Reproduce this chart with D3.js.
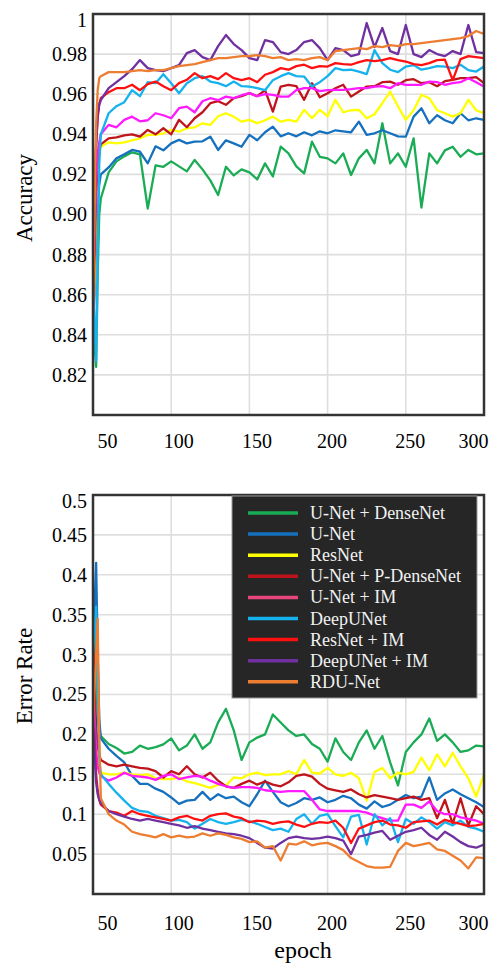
<!DOCTYPE html>
<html>
<head>
<meta charset="utf-8">
<script src="https://cdn.jsdelivr.net/npm/d3@7"></script>
<style>
body{margin:0;background:#fff}
svg text{font-family:"Liberation Serif","Times New Roman",serif !important}
</style>
</head>
<body>
<svg id="chart" width="493" height="967"></svg>
<script>
// epochs shared by every series
var epochs = [50,51,52,53,54,55,60,65,70,75,80,
  85,90,95,100,105,110,115,120,125,130,135,
  140,145,150,155,160,165,170,175,180,185,190,
  195,200,205,210,215,220,225,230,235,240,245,
  250,255,260,265,270,275,280,285,290,295,300]

var seriesNames = ["U-Net + DenseNet","U-Net","ResNet","U-Net + P-DenseNet","U-Net + IM",
  "DeepUNet","ResNet + IM","DeepUNet + IM","RDU-Net"]

var xTicks = [50,100,150,200,250,300]
var accTicks = [0.82,0.84,0.86,0.88,0.90,0.92,0.94,0.96,0.98,1]
var accTickLabels = ["0.82","0.84","0.86","0.88","0.90","0.92","0.94","0.96","0.98","1"]
var errTicks = [0.05,0.1,0.15,0.2,0.25,0.3,0.35,0.4,0.45,0.5]
var errTickLabels = ["0.05","0.1","0.15","0.2","0.25","0.3","0.35","0.4","0.45","0.5"]

// accuracy
var accUNetDense = [0.85,0.835,0.824,0.87,0.90,0.908,0.921,0.9265,0.929,0.931,0.930,
  0.903,0.9245,0.9238,0.9265,0.924,0.9215,0.9272,0.9225,0.917,0.9097,0.9238,
  0.9195,0.9225,0.921,0.9175,0.9255,0.919,0.9338,0.9305,0.924,0.9205,0.9363,
  0.9288,0.928,0.9255,0.9305,0.9197,0.928,0.9322,0.9255,0.9455,0.9255,0.9305,
  0.9238,0.938,0.9035,0.9305,0.9255,0.932,0.9338,0.9288,0.9322,0.930,0.9305]
var accUNet = [0.845,0.86,0.89,0.905,0.915,0.92,0.9235,0.928,0.930,0.9322,0.9313,
  0.9255,0.934,0.932,0.9355,0.9372,0.9355,0.9363,0.9365,0.9388,0.9322,0.937,
  0.9355,0.9338,0.9397,0.937,0.941,0.9438,0.939,0.9405,0.939,0.941,0.9395,
  0.9415,0.9405,0.942,0.9415,0.941,0.9463,0.9397,0.9405,0.942,0.9405,0.939,
  0.9388,0.9488,0.953,0.9455,0.9495,0.947,0.9455,0.9505,0.947,0.948,0.9472]
var accResNet = [0.840,0.87,0.905,0.925,0.93,0.9338,0.936,0.9355,0.936,0.937,0.938,
  0.9397,0.9397,0.9405,0.9422,0.9413,0.943,0.9435,0.9455,0.9447,0.949,0.9505,
  0.9488,0.9463,0.9472,0.9455,0.947,0.9488,0.9463,0.9472,0.9463,0.9522,0.948,
  0.9522,0.949,0.9572,0.951,0.952,0.9522,0.948,0.950,0.9555,0.9613,0.954,
  0.9472,0.952,0.9597,0.958,0.952,0.9505,0.9488,0.9505,0.9572,0.952,0.9505]
var accUNetPDense = [0.848,0.88,0.91,0.925,0.932,0.935,0.938,0.9385,0.9395,0.940,0.9388,
  0.9422,0.940,0.943,0.940,0.9472,0.9435,0.948,0.951,0.9555,0.9565,0.9547,
  0.958,0.959,0.9605,0.959,0.962,0.9513,0.9638,0.9647,0.964,0.9572,0.9655,
  0.9585,0.9605,0.963,0.9647,0.9588,0.9613,0.9638,0.964,0.966,0.9663,0.9647,
  0.967,0.9675,0.9655,0.966,0.964,0.9665,0.9672,0.968,0.968,0.9685,0.9655]
var accUNetIM = [0.86,0.89,0.915,0.93,0.936,0.94,0.9447,0.9435,0.9472,0.9488,0.9465,
  0.947,0.9505,0.9495,0.948,0.953,0.9538,0.951,0.9565,0.958,0.957,0.9588,
  0.958,0.9595,0.9605,0.959,0.960,0.9597,0.9588,0.9588,0.962,0.963,0.963,
  0.9615,0.962,0.9622,0.9622,0.9625,0.963,0.963,0.9638,0.964,0.963,0.9655,
  0.9647,0.9647,0.9647,0.9663,0.966,0.9647,0.9655,0.966,0.968,0.966,0.9638]
var accDeepUNet = [0.87,0.845,0.827,0.88,0.925,0.94,0.9505,0.954,0.956,0.962,0.959,
  0.966,0.9655,0.970,0.9655,0.9605,0.9655,0.968,0.969,0.9663,0.9655,0.964,
  0.9663,0.964,0.9638,0.963,0.962,0.967,0.969,0.9705,0.969,0.9688,0.9638,
  0.966,0.969,0.973,0.972,0.9722,0.9713,0.970,0.982,0.9755,0.9722,0.971,
  0.9738,0.9745,0.9722,0.973,0.974,0.9738,0.973,0.9747,0.972,0.9713,0.9738]
var accResNetIM = [0.850,0.90,0.935,0.948,0.955,0.958,0.961,0.963,0.963,0.9647,0.962,
  0.965,0.9663,0.964,0.962,0.9655,0.9672,0.9705,0.968,0.969,0.9675,0.9705,
  0.968,0.967,0.968,0.966,0.9697,0.971,0.973,0.9722,0.974,0.9747,0.973,
  0.974,0.9738,0.9755,0.975,0.9747,0.976,0.977,0.9765,0.977,0.978,0.977,
  0.9763,0.975,0.9745,0.9755,0.977,0.9772,0.967,0.9775,0.979,0.9785,0.978]
var accDeepUNetIM = [0.86,0.90,0.935,0.95,0.955,0.957,0.963,0.966,0.969,0.9725,0.977,
  0.973,0.972,0.9715,0.973,0.9745,0.9805,0.982,0.9785,0.977,0.984,0.9895,
  0.985,0.982,0.978,0.977,0.987,0.986,0.981,0.980,0.982,0.986,0.987,
  0.983,0.977,0.983,0.982,0.979,0.980,0.9955,0.9835,0.993,0.9815,0.980,
  0.9945,0.980,0.9785,0.982,0.980,0.979,0.9815,0.980,0.9945,0.981,0.9805]
var accRDUNet = [0.858,0.90,0.945,0.962,0.968,0.969,0.971,0.971,0.971,0.9715,0.972,
  0.9715,0.972,0.972,0.973,0.974,0.9745,0.975,0.976,0.977,0.978,0.978,
  0.9785,0.979,0.979,0.9795,0.979,0.978,0.9785,0.977,0.9775,0.977,0.978,
  0.9785,0.977,0.9815,0.982,0.9825,0.983,0.9825,0.984,0.9835,0.9845,0.984,
  0.985,0.985,0.9855,0.986,0.9865,0.987,0.9875,0.988,0.989,0.9915,0.990]

// error rate
var errUNetDense = [0.30,0.35,0.28,0.22,0.205,0.198,0.188,0.183,0.176,0.178,0.186,
  0.182,0.184,0.1875,0.195,0.18,0.186,0.2,0.182,0.19,0.215,0.232,
  0.205,0.168,0.19,0.196,0.2,0.225,0.215,0.205,0.198,0.2,0.188,
  0.182,0.166,0.195,0.178,0.168,0.19,0.205,0.182,0.198,0.165,0.136,
  0.178,0.19,0.2,0.22,0.192,0.2,0.19,0.178,0.18,0.186,0.185]
var errUNet = [0.30,0.36,0.415,0.30,0.22,0.195,0.182,0.173,0.165,0.148,0.138,
  0.138,0.132,0.128,0.121,0.113,0.117,0.118,0.128,0.118,0.125,0.12,
  0.122,0.115,0.11,0.125,0.142,0.128,0.115,0.11,0.114,0.12,0.118,
  0.121,0.115,0.118,0.123,0.12,0.112,0.107,0.116,0.109,0.112,0.118,
  0.124,0.12,0.122,0.146,0.118,0.126,0.131,0.125,0.12,0.115,0.109]
var errResNet = [0.28,0.25,0.2,0.17,0.158,0.152,0.15,0.15,0.152,0.15,0.149,
  0.15,0.145,0.144,0.144,0.146,0.141,0.139,0.136,0.133,0.137,0.136,
  0.146,0.145,0.15,0.152,0.149,0.15,0.15,0.154,0.15,0.168,0.152,
  0.151,0.158,0.15,0.148,0.152,0.145,0.117,0.153,0.158,0.145,0.152,
  0.15,0.153,0.171,0.155,0.175,0.16,0.177,0.16,0.145,0.122,0.15]
var errUNetPDense = [0.325,0.26,0.21,0.185,0.175,0.168,0.162,0.16,0.162,0.16,0.158,
  0.157,0.154,0.146,0.154,0.15,0.16,0.15,0.146,0.152,0.142,0.135,
  0.133,0.138,0.142,0.137,0.141,0.137,0.135,0.14,0.148,0.15,0.147,
  0.138,0.132,0.13,0.128,0.131,0.125,0.121,0.124,0.122,0.12,0.118,
  0.12,0.122,0.118,0.12,0.095,0.118,0.088,0.12,0.086,0.11,0.1]
var errUNetIM = [0.27,0.22,0.18,0.16,0.152,0.148,0.142,0.146,0.152,0.148,0.147,
  0.146,0.143,0.148,0.15,0.144,0.146,0.148,0.147,0.142,0.138,0.135,
  0.133,0.134,0.134,0.133,0.13,0.129,0.128,0.129,0.129,0.129,0.118,
  0.106,0.104,0.104,0.104,0.104,0.104,0.102,0.098,0.095,0.092,0.092,
  0.112,0.112,0.108,0.116,0.104,0.1,0.1,0.096,0.094,0.092,0.088]
var errDeepUNet = [0.30,0.33,0.36,0.25,0.17,0.15,0.138,0.127,0.117,0.108,0.104,
  0.103,0.098,0.095,0.092,0.093,0.09,0.082,0.088,0.094,0.09,0.088,
  0.09,0.093,0.091,0.088,0.084,0.08,0.082,0.078,0.094,0.1,0.088,
  0.098,0.1,0.085,0.071,0.097,0.099,0.062,0.1,0.086,0.095,0.065,
  0.094,0.088,0.096,0.09,0.082,0.09,0.086,0.092,0.084,0.082,0.078]
var errResNetIM = [0.25,0.19,0.15,0.13,0.118,0.112,0.104,0.102,0.098,0.104,0.1,
  0.098,0.096,0.094,0.092,0.096,0.098,0.094,0.092,0.098,0.1,0.101,
  0.097,0.095,0.09,0.092,0.091,0.088,0.09,0.091,0.087,0.084,0.088,
  0.09,0.089,0.092,0.083,0.064,0.082,0.086,0.09,0.092,0.087,0.086,
  0.083,0.09,0.091,0.092,0.087,0.093,0.09,0.088,0.085,0.086,0.088]
var errDeepUNetIM = [0.25,0.18,0.14,0.125,0.118,0.114,0.104,0.1,0.097,0.094,0.092,
  0.094,0.092,0.09,0.088,0.086,0.083,0.085,0.082,0.08,0.078,0.076,
  0.075,0.073,0.07,0.064,0.058,0.057,0.064,0.07,0.072,0.07,0.069,
  0.07,0.072,0.07,0.067,0.05,0.072,0.074,0.077,0.079,0.068,0.073,
  0.078,0.08,0.083,0.074,0.068,0.078,0.072,0.065,0.06,0.058,0.062]
var errRDUNet = [0.2,0.26,0.3,0.345,0.2,0.12,0.1,0.092,0.087,0.078,0.075,
  0.073,0.071,0.075,0.071,0.073,0.071,0.072,0.076,0.073,0.076,0.074,
  0.071,0.069,0.065,0.066,0.058,0.06,0.042,0.063,0.062,0.066,0.061,
  0.063,0.064,0.06,0.055,0.045,0.04,0.035,0.033,0.033,0.034,0.054,
  0.064,0.06,0.062,0.064,0.056,0.054,0.048,0.042,0.032,0.046,0.045]

var accSeries = [accUNetDense,accUNet,accResNet,accUNetPDense,accUNetIM,accDeepUNet,accResNetIM,accDeepUNetIM,accRDUNet]
var errSeries = [errUNetDense,errUNet,errResNet,errUNetPDense,errUNetIM,errDeepUNet,errResNetIM,errDeepUNetIM,errRDUNet]

var colors = ["#1aab55","#1570be","#ffff00","#c0141c","#ff1aff","#16b2ee","#ff1010","#7030a0","#ed7d31"]
var legendColors = colors.slice()
legendColors[4] = "#e8457d" // legend swatch is pinker than the plotted line

var svg = d3.select("#chart")
var left = 93, right = 484
var x = d3.scaleLinear().domain([50,300]).range([left,right])
var xLabelShift = [14,7,7,4,4,-11]

var drawPanel = function(id, top, bottom, yDomain, ticks, tickLabels, series, labelPad, title, titleY)
{
    var y = d3.scaleLinear().domain(yDomain).range([bottom,top])
    var g = svg.append("g").attr("id",id)

    // grid
    g.selectAll(".hgrid").data(ticks.filter(function(t){return t < yDomain[1]})).enter()
        .append("line").attr("class","hgrid")
        .attr("x1",left).attr("x2",right)
        .attr("y1",function(t){return y(t)}).attr("y2",function(t){return y(t)})
        .attr("stroke","#dedede").attr("stroke-width",1.6)
    g.selectAll(".vgrid").data([100,150,200,250]).enter()
        .append("line").attr("class","vgrid")
        .attr("x1",function(t){return x(t)}).attr("x2",function(t){return x(t)})
        .attr("y1",top).attr("y2",bottom)
        .attr("stroke","#dedede").attr("stroke-width",1.6)

    // curves
    g.append("clipPath").attr("id",id+"clip").append("rect")
        .attr("x",left).attr("y",top).attr("width",right-left).attr("height",bottom-top)
    var line = d3.line()
        .x(function(d,i){return x(epochs[i])})
        .y(function(d){return y(d)})
    g.append("g").attr("clip-path","url(#"+id+"clip)")
        .selectAll("path").data(series).enter()
        .append("path")
        .attr("d",line)
        .attr("fill","none")
        .attr("stroke",function(d,i){return colors[i]})
        .attr("stroke-width",2.3)
        .attr("stroke-linejoin","round")

    // frame
    g.append("rect").attr("x",left).attr("y",top).attr("width",right-left).attr("height",bottom-top)
        .attr("fill","none").attr("stroke","#333").attr("stroke-width",2.5)

    // axes
    var yAxis = d3.axisLeft(y).tickValues(ticks).tickSize(0).tickPadding(6)
        .tickFormat(function(d,i){return tickLabels[i]})
    var ya = g.append("g").attr("transform","translate("+left+",0)").call(yAxis)
    ya.select(".domain").remove()
    ya.attr("font-family",null)
    ya.selectAll("text").style("font-size","20px").attr("fill","#000")
        .attr("dy",function(d,i){return i == ticks.length-1 ? "0.62em" : "0.32em"})

    var xAxis = d3.axisBottom(x).tickValues(xTicks).tickSize(0).tickPadding(labelPad)
    var xa = g.append("g").attr("transform","translate(0,"+bottom+")").call(xAxis)
    xa.select(".domain").remove()
    xa.attr("font-family",null)
    xa.selectAll("text").style("font-size","20px").attr("fill","#000")
        .attr("dx",function(d,i){return xLabelShift[i]})

    g.append("text")
        .attr("transform","translate(32,"+titleY+") rotate(-90)")
        .attr("text-anchor","middle")
        .style("font-size","23px")
        .text(title)
}

drawPanel("acc",14,415,[0.8,1],accTicks,accTickLabels,accSeries,19,"Accuracy",198)
drawPanel("err",495,894,[0,0.5],errTicks,errTickLabels,errSeries,22,"Error Rate",676)

svg.append("text").attr("x",303).attr("y",958)
    .attr("text-anchor","middle").style("font-size","24px").text("epoch")

// legend
var legend = svg.append("g").attr("id","legend")
legend.append("rect").attr("x",232).attr("y",496).attr("width",245).attr("height",202)
    .attr("fill","#262626").attr("stroke","#9a9a9a").attr("stroke-width",1)
var rows = legend.selectAll(".row").data(seriesNames).enter()
    .append("g").attr("class","row")
    .attr("transform",function(d,i){return "translate(0,"+(513+i*21.1)+")"})
rows.append("line").attr("x1",248).attr("x2",298)
    .attr("stroke",function(d,i){return legendColors[i]}).attr("stroke-width",3.5)
rows.append("text").attr("x",310).attr("y",6)
    .style("font-size","18px").attr("fill","#f2f2f2").text(function(d){return d})
</script>
</body>
</html>
